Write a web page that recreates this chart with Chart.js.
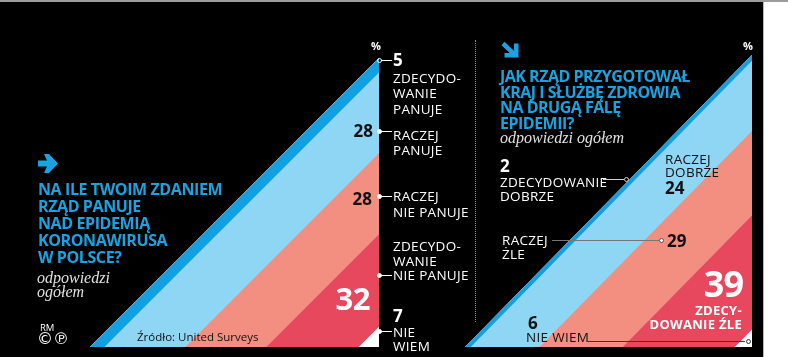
<!DOCTYPE html>
<html><head><meta charset="utf-8">
<script src="https://cdn.jsdelivr.net/npm/chart.js@4.4.1/dist/chart.umd.min.js"></script>
<style>
html,body{margin:0;padding:0;background:#fff;}
#wrap{position:relative;width:788px;height:357px;overflow:hidden;background:#fff;font-family:'Open Sans',sans-serif;}
#topline{position:absolute;left:0;top:0;width:788px;height:2px;background:#9c9c9c;}
#bg{position:absolute;left:0;top:2px;width:763px;height:355px;background:#000;border-right:1px solid #b8b8b8;}
canvas{position:absolute;}
.t{position:absolute;white-space:pre;color:#fff;margin:0;}
.lab{font-size:13.5px;line-height:15.5px;letter-spacing:0.3px;}
.num{font-size:17px;line-height:17px;font-weight:700;}
.dark{color:#111;}
.title{font-weight:700;color:#1ba3e1;font-size:16px;line-height:17px;letter-spacing:-0.4px;}
.it{font-family:'Liberation Serif',serif;font-style:italic;font-size:16px;line-height:14px;color:#e2e2e2;}
.pct{font-size:11px;font-weight:700;line-height:11px;}
.ln{position:absolute;height:1px;}
.dot{position:absolute;width:3px;height:3px;border-radius:50%;border:1px solid #fff;box-sizing:content-box;}
#sep{position:absolute;left:475px;top:40px;height:282px;border-left:1px dotted #8a8a8a;}
</style>
</head><body>
<div id="wrap">
  <div id="topline"></div>
  <div id="bg"></div>
  <div id="sep"></div>
  <canvas id="cLeft" width="289" height="289" style="left:90px;top:58px"></canvas>
  <canvas id="cRight" width="287" height="292" style="left:465px;top:55px"></canvas>

  <svg style="position:absolute;left:0;top:0" width="788" height="357">
    <polygon points="38,160.5 47,160.5 44,154 49,154 58,163.5 49,173 44,173 47,166.5 38,166.5" fill="#1ba3e1"/>
    <line x1="503" y1="43.5" x2="514" y2="54" stroke="#1ba3e1" stroke-width="4.5"/>
    <polygon points="518.5,57.5 504.5,57.5 504.5,53 514,53 514,43.5 518.5,43.5" fill="#1ba3e1"/>
  </svg>

  <div class="t pct" style="left:371px;top:40px">%</div>
  <div class="t pct" style="left:743px;top:40px">%</div>

  <!-- left panel text -->
  <div class="t title" style="left:38px;top:181px">NA ILE TWOIM ZDANIEM
RZĄD PANUJE
NAD EPIDEMIĄ
KORONAWIRUSA
W POLSCE?</div>
  <div class="t it" style="left:37px;top:271px">odpowiedzi
ogółem</div>
  <div class="t" style="left:40px;top:322px;font-size:9.5px;line-height:11px">RM</div>
  <div class="t" style="left:37px;top:330px;font-family:'DejaVu Sans';font-size:16px;line-height:17px;letter-spacing:0px">©℗</div>
  <div class="t dark" style="left:137px;top:329px;font-size:11.5px;line-height:16px">Źródło: United Surveys</div>

  <div class="t num" style="left:393px;top:51px">5</div>
  <div class="t lab" style="left:393px;top:70.9px">ZDECYDO-
WANIE
PANUJE</div>
  <div class="t num dark" style="right:415px;top:122px">28</div>
  <div class="t lab" style="left:393px;top:127.9px">RACZEJ
PANUJE</div>
  <div class="t num dark" style="right:416px;top:189.5px">28</div>
  <div class="t lab" style="left:393px;top:189.4px">RACZEJ
NIE PANUJE</div>
  <div class="t lab" style="left:393px;top:239.3px;line-height:14.5px">ZDECYDO-
WANIE
NIE PANUJE</div>
  <div class="t" style="right:418px;top:282.6px;font-size:31px;line-height:31px;font-weight:700;letter-spacing:-0.5px">32</div>
  <div class="t num" style="left:393px;top:307px">7</div>
  <div class="t lab" style="left:393px;top:324.6px;line-height:14px">NIE
WIEM</div>

  <!-- left leader lines -->
  <div class="ln" style="left:381px;top:60px;width:11px;background:#fff"></div>
  <div class="dot" style="left:376.5px;top:57.5px;background:transparent"></div>
  <div class="ln" style="left:381px;top:131px;width:11px;background:#fff"></div>
  <div class="dot" style="left:376.5px;top:128.5px;background:#fff"></div>
  <div class="ln" style="left:381px;top:196px;width:11px;background:#fff"></div>
  <div class="dot" style="left:376.5px;top:193.5px;background:#fff"></div>
  <div class="ln" style="left:381px;top:275px;width:11px;background:#fff"></div>
  <div class="dot" style="left:376.5px;top:272.5px;background:#fff"></div>
  <div class="ln" style="left:381px;top:331px;width:11px;background:#fff"></div>
  <div class="dot" style="left:376.5px;top:328.5px;background:#fff"></div>

  <!-- right panel text -->
  <div class="t title" style="left:500px;top:69.3px;line-height:15.4px;letter-spacing:-0.5px">JAK RZĄD PRZYGOTOWAŁ
KRAJ I SŁUŻBĘ ZDROWIA
NA DRUGĄ FALĘ
EPIDEMII?</div>
  <div class="t it" style="left:500px;top:131px">odpowiedzi ogółem</div>
  <div class="t num" style="left:500px;top:157px">2</div>
  <div class="t lab" style="left:500px;top:175px;line-height:14px">ZDECYDOWANIE
DOBRZE</div>
  <div class="t lab dark" style="left:665px;top:152.8px;line-height:13.5px">RACZEJ
DOBRZE</div>
  <div class="t num dark" style="left:665px;top:178.5px">24</div>
  <div class="t lab" style="left:502px;top:232.6px;line-height:14px">RACZEJ
ŻLE</div>
  <div class="t num dark" style="left:667px;top:232px">29</div>
  <div class="t" style="right:45px;top:265.9px;font-size:36px;line-height:36px;font-weight:700;letter-spacing:-1px">39</div>
  <div class="t" style="right:46px;top:302.6px;font-size:13px;line-height:14px;font-weight:700;text-align:right;letter-spacing:0.3px">ZDECY-
DOWANIE ŹLE</div>
  <div class="t num dark" style="left:528px;top:313.5px">6</div>
  <div class="t lab dark" style="left:526px;top:330.4px">NIE WIEM</div>

  <!-- right leader lines -->
  <div class="ln" style="left:603px;top:179px;width:21px;background:#d0d0d0"></div>
  <div class="dot" style="left:623.5px;top:176.5px;border-color:#d0d0d0;background:#000"></div>
  <div class="ln" style="left:552px;top:240px;width:107px;background:#777"></div>
  <div class="dot" style="left:658.5px;top:237.5px;border-color:#555;background:#fff"></div>
  <div class="ln" style="left:587px;top:341px;width:158px;background:#3a3a3a"></div>
  <div class="dot" style="left:745.5px;top:338.5px;border-color:#333;background:#fff"></div>
</div>

<script>
// ---- data ----
const leftCategories = ['ZDECYDOWANIE PANUJE', 'RACZEJ PANUJE', 'RACZEJ NIE PANUJE', 'ZDECYDOWANIE NIE PANUJE', 'NIE WIEM'];
const leftValues = [5, 28, 28, 32, 7];
const rightCategories = ['ZDECYDOWANIE DOBRZE', 'RACZEJ DOBRZE', 'RACZEJ ŹLE', 'ZDECYDOWANIE ŹLE', 'NIE WIEM'];
const rightValues = [2, 24, 29, 39, 6];
const bandColors = ['#12a0e0', '#8fd5f4', '#f28f80', '#e8485e', '#ffffff'];

// Each band is the strip between two lines parallel to the triangle's hypotenuse.
// Boundary k: y = max(0, x - cumulative_k). Dataset k fills up to the hypotenuse (dataset 0);
// Chart.js draws higher indices first, so smaller strips end up on top.
function buildData(values, labels) {
  const cum = [0];
  values.forEach(v => cum.push(cum[cum.length - 1] + v));
  const total = cum[cum.length - 1];
  const xs = cum.slice();
  const boundary = P => xs.map(x => ({ x: x, y: Math.max(0, x - P) }));
  const datasets = [{
    label: 'edge', data: boundary(0), fill: false,
    borderWidth: 0, borderColor: 'rgba(0,0,0,0)', pointRadius: 0
  }];
  values.forEach((v, i) => {
    datasets.push({
      label: labels[i], data: boundary(cum[i + 1]), fill: 0,
      backgroundColor: bandColors[i], borderWidth: 0,
      borderColor: 'rgba(0,0,0,0)', pointRadius: 0
    });
  });
  return { datasets, total };
}

function makeChart(id, values, labels) {
  const d = buildData(values, labels);
  return new Chart(document.getElementById(id), {
    type: 'line',
    data: { datasets: d.datasets },
    options: {
      responsive: false, animation: false, devicePixelRatio: 1,
      layout: { padding: 0 },
      elements: { line: { tension: 0 } },
      plugins: { legend: { display: false }, tooltip: { enabled: false } },
      scales: {
        x: { type: 'linear', min: 0, max: d.total, display: false },
        y: { type: 'linear', min: 0, max: d.total, display: false }
      }
    }
  });
}

makeChart('cLeft', leftValues, leftCategories);
makeChart('cRight', rightValues, rightCategories);
</script>
</body></html>
